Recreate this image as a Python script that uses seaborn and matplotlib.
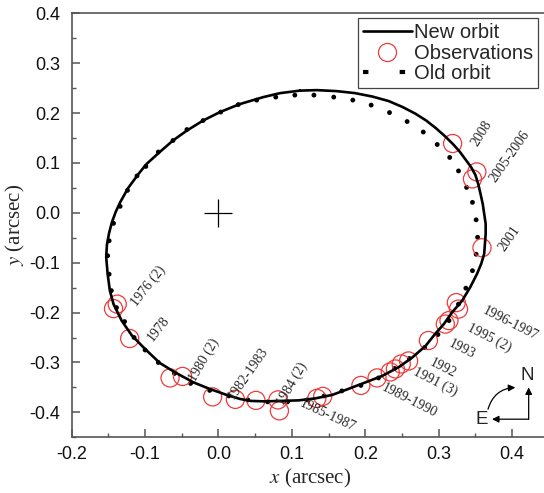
import matplotlib
matplotlib.use("Agg")
import matplotlib.pyplot as plt
from matplotlib.lines import Line2D
from matplotlib.ticker import MultipleLocator, FormatStrFormatter
import seaborn as sns

# new orbit (arcsec)
new_x = [0.111, 0.134, 0.161, 0.186, 0.210, 0.232, 0.251, 0.268, 0.283, 0.296,
         0.309, 0.320, 0.329, 0.336, 0.344, 0.350, 0.354, 0.357, 0.360, 0.362,
         0.364, 0.364, 0.363, 0.362, 0.358, 0.352, 0.343, 0.332, 0.318, 0.307,
         0.295, 0.282, 0.264, 0.246, 0.223, 0.200, 0.177, 0.155, 0.132, 0.109,
         0.087, 0.063, 0.043, 0.029, 0.011, -0.012, -0.034, -0.059, -0.080, -0.100,
         -0.118, -0.132, -0.143, -0.148, -0.151, -0.153, -0.152, -0.149, -0.145,
         -0.140, -0.134, -0.123, -0.109, -0.098, -0.080, -0.062, -0.043, -0.021,
         0.002, 0.029, 0.061, 0.084, 0.111]
new_y = [0.245, 0.246, 0.244, 0.240, 0.233, 0.224, 0.212, 0.199, 0.185, 0.170,
         0.153, 0.137, 0.122, 0.108, 0.092, 0.076, 0.057, 0.038, 0.018, -0.002,
         -0.022, -0.042, -0.062, -0.082, -0.102, -0.123, -0.149, -0.176, -0.200, -0.223,
         -0.243, -0.267, -0.290, -0.309, -0.327, -0.340, -0.353, -0.365, -0.372, -0.376,
         -0.377, -0.378, -0.377, -0.373, -0.365, -0.353, -0.340, -0.320, -0.301, -0.273,
         -0.246, -0.216, -0.183, -0.156, -0.123, -0.089, -0.064, -0.040, -0.018,
         0.002, 0.021, 0.050, 0.078, 0.098, 0.122, 0.145, 0.165, 0.185,
         0.202, 0.218, 0.232, 0.240, 0.245]

# old orbit dots
old_x = [-0.146, -0.149, -0.151, -0.149, -0.143, -0.134, -0.124, -0.111, -0.099, -0.082,
         -0.062, -0.043, -0.021, 0.003, 0.027, 0.052, 0.078, 0.104, 0.130, 0.157,
         0.183, 0.208, 0.233, 0.257, 0.279, 0.298, 0.315, 0.327, 0.338, 0.346,
         0.351, 0.353, 0.351, 0.346, 0.337, 0.327, 0.314, 0.299, 0.281, 0.260,
         0.240, 0.218, 0.194, 0.168, 0.144, 0.121, 0.094, 0.067, 0.040, 0.014,
         -0.012, -0.038, -0.060, -0.082, -0.100, -0.115, -0.128, -0.139]
old_y = [-0.156, -0.123, -0.086, -0.056, -0.021, 0.013, 0.045, 0.074, 0.093, 0.122,
         0.145, 0.167, 0.185, 0.202, 0.217, 0.226, 0.232, 0.236, 0.236, 0.232,
         0.226, 0.216, 0.201, 0.183, 0.162, 0.137, 0.111, 0.084, 0.051, 0.021,
         -0.014, -0.049, -0.083, -0.116, -0.151, -0.183, -0.216, -0.244, -0.270, -0.292,
         -0.312, -0.331, -0.346, -0.357, -0.367, -0.375, -0.379, -0.379, -0.375, -0.367,
         -0.356, -0.342, -0.322, -0.300, -0.275, -0.250, -0.218, -0.190]

# observations
obs_x = [-0.143, -0.138, -0.121, -0.066, -0.049, -0.008, 0.023, 0.051, 0.081, 0.083,
         0.134, 0.142, 0.194, 0.216, 0.234, 0.241, 0.249, 0.259, 0.286, 0.309,
         0.314, 0.324, 0.327, 0.359, 0.346, 0.352, 0.319]
obs_y = [-0.192, -0.183, -0.252, -0.331, -0.328, -0.369, -0.374, -0.376, -0.375, -0.397,
         -0.372, -0.368, -0.346, -0.331, -0.319, -0.313, -0.303, -0.297, -0.256, -0.223,
         -0.216, -0.180, -0.193, -0.070, 0.068, 0.082, 0.139]

# year notes: text, x, y, rotation
year_notes = [
    ("2008", 0.359, 0.159, 58),
    ("2005-2006", 0.397, 0.112, 55),
    ("2001", 0.397, -0.052, 55),
    ("1996-1997", 0.398, -0.222, -27),
    ("1995 (2)", 0.369, -0.251, -27),
    ("1993", 0.332, -0.273, -27),
    ("1992", 0.305, -0.311, -27),
    ("1991 (3)", 0.295, -0.338, -27),
    ("1989-1990", 0.260, -0.376, -27),
    ("1985-1987", 0.148, -0.407, -25),
    ("1984 (2)", 0.100, -0.343, 60),
    ("1982-1983", 0.041, -0.321, 55),
    ("1980 (2)", -0.020, -0.295, 60),
    ("1978", -0.082, -0.233, 52),
    ("1976 (2)", -0.095, -0.147, 52),
]

sns.set_style("ticks")
plt.rcParams["font.family"] = ["Liberation Sans", "DejaVu Sans"]
plt.rcParams["mathtext.fontset"] = "stix"

red = "#ee3b3b"
fig = plt.figure(figsize=(5.44, 4.93), dpi=100)
ax = fig.add_axes([0.1318, 0.113, 0.877, 0.860])

sns.lineplot(x=new_x, y=new_y, sort=False, estimator=None, color="black",
             lw=1.9, ax=ax)
sns.scatterplot(x=old_x, y=old_y, color="black", s=12, edgecolor="none", ax=ax)
sns.scatterplot(x=obs_x, y=obs_y, marker="o", s=170, facecolor="none",
                edgecolor=red, linewidth=0.9, ax=ax)
ax.plot([0], [0], marker="+", ms=20, mew=0.9, color="black")

for txt, tx, ty, rot in year_notes:
    ax.text(tx, ty, txt, rotation=rot, ha="center", va="center",
            rotation_mode="anchor", fontsize=10, family="Liberation Serif")

# compass
arrow = dict(arrowstyle="-|>", color="black", lw=0.9, shrinkA=0, shrinkB=0)
ax.annotate("", xy=(0.4226, -0.350), xytext=(0.4226, -0.4137), arrowprops=arrow)
ax.annotate("", xy=(0.3726, -0.4137), xytext=(0.4226, -0.4137), arrowprops=arrow)
ax.annotate("", xy=(0.4044, -0.3502), xytext=(0.3672, -0.3936),
            arrowprops=dict(arrow, connectionstyle="arc3,rad=-0.35"))
ax.text(0.4203, -0.3267, "N", ha="center", va="center", fontsize=13.5)
ax.text(0.358, -0.4137, "E", ha="center", va="center", fontsize=13.5)

ax.set_xlim(-0.2, 0.45)
ax.set_ylim(-0.45, 0.4)
ax.xaxis.set_major_locator(MultipleLocator(0.1))
ax.xaxis.set_minor_locator(MultipleLocator(0.05))
ax.yaxis.set_major_locator(MultipleLocator(0.1))
ax.yaxis.set_minor_locator(MultipleLocator(0.05))
ax.xaxis.set_major_formatter(FormatStrFormatter("%.1f"))
ax.yaxis.set_major_formatter(FormatStrFormatter("%.1f"))

spine_c = "#555555"
for s in ax.spines.values():
    s.set_color(spine_c)
    s.set_linewidth(1.2)
ax.tick_params(which="both", direction="in", colors=spine_c, labelcolor="#111111",
               labelsize=13, top=False, right=False)
ax.tick_params(which="major", length=5.5, width=1.1)
ax.tick_params(which="minor", length=3.2, width=1.0)
ax.tick_params(axis="x", pad=6)
ax.tick_params(axis="y", pad=8)

ax.set_xlabel(r"$x$ (arcsec)", fontsize=15, family="Liberation Serif", labelpad=3)
ax.set_ylabel(r"$y$ (arcsec)", fontsize=15, family="Liberation Serif", labelpad=2)

handles = [
    Line2D([], [], color="black", lw=1.9),
    Line2D([], [], ls="none", marker="o", ms=13, mfc="none", mec=red, mew=0.9),
    Line2D([], [], color="black", lw=3.0, ls=(0, (1.3, 7.5))),
]
leg = ax.legend(handles, ["New orbit", "Observations", "Old orbit"], loc="upper right",
                bbox_to_anchor=(0.977, 0.989), borderaxespad=0, fontsize=14.5,
                handlelength=2.4, handletextpad=0.1, labelspacing=0.08, borderpad=0.25,
                fancybox=False, framealpha=1, edgecolor="#444444")
leg.get_frame().set_linewidth(0.9)

fig.savefig("out.png", dpi=100)
